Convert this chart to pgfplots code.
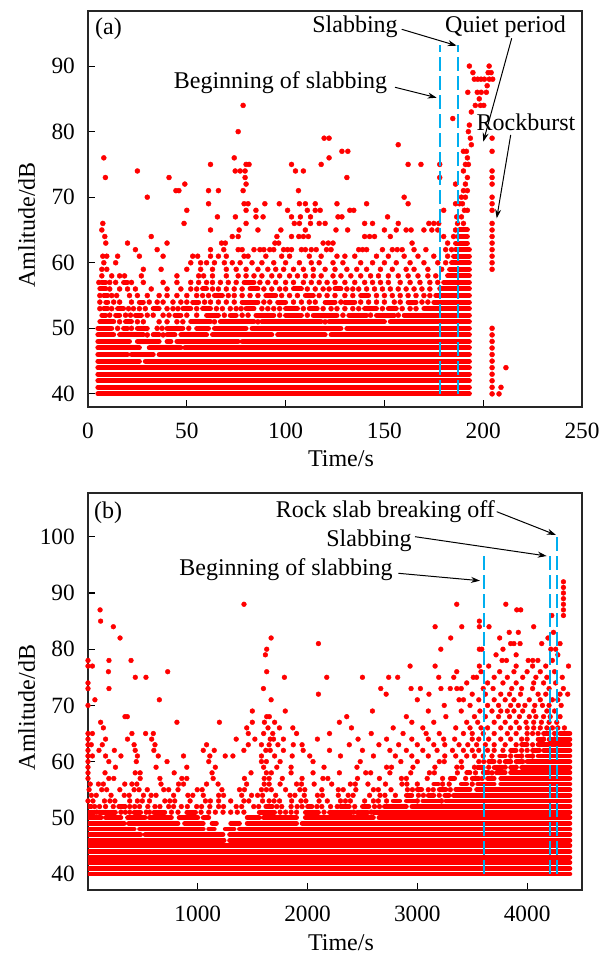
\documentclass[border=0pt]{standalone}
\usepackage{fontspec}
\setmainfont{Liberation Serif}
\usepackage{pgfplots}
\pgfplotsset{compat=1.18}
\usetikzlibrary{arrows.meta}
\definecolor{cyanb}{RGB}{0,174,239}
\pgfplotsset{
  common/.style={scale only axis, width=494pt,
    axis line style={black!85, line width=1.1pt},
    tick pos=left, tick align=inside, major tick length=7pt,
    tick style={black, line width=1.1pt},
    tick label style={font=\fontsize{23.3}{26}\selectfont},
    /pgf/number format/assume math mode=true,
    /pgf/number format/1000 sep={},
    xticklabel style={anchor=north, inner sep=0pt, yshift=-16pt},
    yticklabel style={anchor=east, inner sep=0pt, xshift=-13pt},
    every axis x label/.style={at={(axis description cs:0.512,0)}, anchor=base, yshift=-60pt, font=\fontsize{24}{28}\selectfont},
    every axis y label/.style={at={(axis description cs:-0.1073,0.46)}, rotate=90, anchor=base, font=\fontsize{24}{28}\selectfont},
    xlabel={Time/s}, ylabel={Amlitude/dB},
    clip mode=individual, unbounded coords=jump},
  dotA/.style={only marks, mark=*, mark size=2.5pt, color=red, mark options={solid, draw=none, fill=red}},
  segA/.style={color=red, line width=5pt, line cap=round, no markers},
  dotB/.style={only marks, mark=*, mark size=2.4pt, color=red, mark options={solid, draw=none, fill=red}},
  segB/.style={color=red, line width=4.8pt, line cap=round, no markers},
  slab/.style={color=cyanb, line width=2pt, dash pattern=on 14pt off 5pt, no markers},
}
\tikzset{ann/.style={font=\fontsize{24}{28}\selectfont, inner sep=0pt},
  arr/.style={-{Stealth[length=9pt,width=6pt]}, line width=1pt, black}}
\begin{document}
\begin{tikzpicture}
\path[use as bounding box] (0,0) rectangle (613pt,956pt);
% ---------------- panel (a)
\begin{axis}[common, at={(88pt,549pt)}, anchor=south west, height=396pt,
  xmin=0, xmax=250, ymin=38, ymax=98.4, xtick={0,50,100,150,200,250}, ytick={40,50,60,70,80,90}]
\addplot[segA] coordinates {
(5,40)(193,40) (nan,nan) (5,41)(193,41) (nan,nan) (5,42)(193,42) (nan,nan) (5,43)(193,43) (nan,nan) (5,44)(193,44) (nan,nan)
(5,45)(26,45) (nan,nan) (29,45)(193,45) (nan,nan)
(5,46)(20,46) (nan,nan) (22,46)(33,46) (nan,nan) (36,46)(193,46) (nan,nan)
(5,47)(26,47) (nan,nan) (31,47)(47,47) (nan,nan) (49,47)(193,47) (nan,nan)
(5,48)(21,48) (nan,nan) (25,48)(36,48) (nan,nan) (40,48)(42,48) (nan,nan) (45,48)(76,48) (nan,nan) (78,48)(193,48) (nan,nan)
(5,49)(13,49) (nan,nan) (16,49)(28,49) (nan,nan) (33,49)(36,49) (nan,nan) (40,49)(44,49) (nan,nan) (47,49)(60,49) (nan,nan) (63,49)(93,49) (nan,nan) (96,49)(120,49) (nan,nan) (123,49)(193,49) (nan,nan)
(5,50)(12,50) (nan,nan) (18,50)(20,50) (nan,nan) (25,50)(30,50) (nan,nan) (40,50)(48,50) (nan,nan) (55,50)(61,50) (nan,nan) (64,50)(80,50) (nan,nan) (83,50)(128,50) (nan,nan) (131,50)(193,50) (nan,nan)
(6,51)(13,51) (nan,nan) (19,51)(22,51) (nan,nan) (52,51)(62,51) (nan,nan) (67,51)(84,51) (nan,nan) (88,51)(118,51) (nan,nan) (122,51)(150,51) (nan,nan) (153,51)(193,51) (nan,nan)
(7,52)(9,52) (nan,nan) (14,52)(16,52) (nan,nan) (24,52)(27,52) (nan,nan) (44,52)(47,52) (nan,nan) (60,52)(66,52) (nan,nan) (72,52)(75,52) (nan,nan) (85,52)(94,52) (nan,nan) (100,52)(108,52) (nan,nan) (114,52)(126,52) (nan,nan) (132,52)(141,52) (nan,nan) (146,52)(155,52) (nan,nan) (160,52)(193,52) (nan,nan)
(8,53)(10,53) (nan,nan) (15,53)(18,53) (nan,nan) (33,53)(36,53) (nan,nan) (48,53)(52,53) (nan,nan) (58,53)(62,53) (nan,nan) (80,53)(84,53) (nan,nan) (100,53)(106,53) (nan,nan) (112,53)(116,53) (nan,nan) (140,53)(146,53) (nan,nan) (152,53)(156,53) (nan,nan) (170,53)(193,53) (nan,nan)
(9,54)(10,54) (nan,nan) (26,54)(28,54) (nan,nan) (53,54)(56,54) (nan,nan) (78,54)(86,54) (nan,nan) (96,54)(100,54) (nan,nan) (120,54)(125,54) (nan,nan) (130,54)(135,54) (nan,nan) (162,54)(166,54) (nan,nan) (175,54)(193,54) (nan,nan)
(8,55)(10,55) (nan,nan) (64,55)(68,55) (nan,nan) (90,55)(95,55) (nan,nan) (110,55)(114,55) (nan,nan) (138,55)(142,55) (nan,nan) (176,55)(193,55) (nan,nan)
(6,56)(9,56) (nan,nan) (58,56)(60,56) (nan,nan) (82,56)(86,56) (nan,nan) (104,56)(108,56) (nan,nan) (125,56)(128,56) (nan,nan) (178,56)(193,56) (nan,nan)
(7,57)(9,57) (nan,nan) (18,57)(20,57) (nan,nan) (79,57)(84,57) (nan,nan) (180,57)(193,57) (nan,nan)
(182,58)(193,58) (nan,nan) (183,59)(193,59) (nan,nan) (184,60)(193,60) (nan,nan) (185,61)(193,61) (nan,nan) (186,62)(193,62) (nan,nan)
(186,63)(192,63) (nan,nan) (187,64)(192,64) (nan,nan) (188,65)(192,65)
};
\addplot[dotA] coordinates {
(30,49)(38,49)
(15,50)(22,50)(35,50)(37.5,50)(51,50)
(16,51)(25,51)(28,51)(36,51)(40,51)(45,51)(48,51)(64,51)(86,51)(120,51)
(11,52)(19,52)(21.5,52)(30,52)(33,52)(38,52)(41,52)(50,52)(55,52)(69,52)(78,52)(81,52)(97,52)(111,52)(129,52)(143,52)(157,52)
(6,53)(12,53)(20.5,53)(23,53)(26,53)(29,53)(40,53)(43,53)(45.5,53)(55,53)(65,53)(68,53)(72,53)(75,53)(77.5,53)(88,53)(91,53)(94,53)(97,53)(109,53)(119,53)(123,53)(126,53)(130,53)(134,53)(137,53)(149,53)(159,53)(163,53)(166,53)
(6,54)(13,54)(16,54)(22,54)(31,54)(35,54)(38,54)(43,54)(47,54)(50,54)(59,54)(62,54)(66,54)(70,54)(74,54)(89,54)(92,54)(104,54)(108,54)(112,54)(115,54)(128,54)(138,54)(142,54)(146,54)(150,54)(155,54)(158,54)(169,54)(172,54)
(6,55)(12,55)(14.5,55)(21,55)(25,55)(30,55)(36,55)(40,55)(45,55)(50,55)(55,55)(58,55)(61,55)(71,55)(74,55)(78,55)(82,55)(86,55)(98,55)(102,55)(106,55)(117,55)(121,55)(125,55)(130,55)(134,55)(146,55)(150,55)(154,55)(158,55)(162,55)(166,55)(170,55)(173,55)
(11,56)(16,56)(20,56)(24,56)(32,56)(40,56)(47,56)(52,56)(55,56)(63,56)(66,56)(70,56)(74,56)(78,56)(89,56)(93,56)(97,56)(100,56)(111,56)(115,56)(119,56)(122,56)(131,56)(134,56)(137,56)(141,56)(145,56)(149,56)(153,56)(157,56)(161,56)(165,56)(169,56)(173,56)
(5.5,57)(11,57)(14,57)(22,57)(28,57)(38,57)(45,57)(52,57)(56,57)(60,57)(63,57)(67,57)(71,57)(75,57)(87,57)(91,57)(95,57)(100,57)(104,57)(109,57)(113,57)(117,57)(121,57)(125,57)(130,57)(135,57)(140,57)(144,57)(148,57)(152,57)(158,57)(163,57)(168,57)(173,57)(177,57)
(7,58)(12,58)(16,58)(18.5,58)(27,58)(45,58)(56,58)(58.5,58)(63,58)(70,58)(76,58)(80,58)(84,58)(88,58)(93,58)(97,58)(102,58)(106,58)(110,58)(114,58)(118,58)(124,58)(128,58)(133,58)(138,58)(143,58)(147,58)(152,58)(157,58)(162,58)(167,58)(172,58)(176,58)
(7,59)(9.5,59)(28,59)(37,59)(50,59)(57,59)(63,59)(70,59)(75,59)(80,59)(86,59)(91,59)(95,59)(99,59)(104,59)(109,59)(114,59)(120,59)(125,59)(131,59)(136,59)(141,59)(148,59)(154,59)(161,59)(165,59)(172,59)(179,59)
(8,60)(14,60)(52,60)(57,60)(60,60)(64,60)(69,60)(73,60)(77,60)(83,60)(88,60)(94,60)(100,60)(107,60)(113,60)(117,60)(124,60)(129,60)(138,60)(144,60)(150,60)(156,60)(163,60)(170,60)(177,60)(181,60)
(7.5,61)(9.5,61)(15,61)(26,61)(38,61)(53,61)(55.5,61)(62,61)(66,61)(70,61)(79,61)(81,61)(90,61)(98,61)(102,61)(112,61)(118,61)(126,61)(130,61)(135,61)(146,61)(152,61)(160,61)(167,61)(175,61)(182,61)
(24,62)(35,62)(62,62)(68.7,62)(76,62)(78,62)(84,62)(87,62)(89,62)(92,62)(94,62)(99,62)(101,62)(103,62)(108,62)(110,62)(113,62)(115.5,62)(120.7,62)(123,62)(137,62)(139,62)(141,62)(149,62)(154,62)(156.5,62)(159,62)(165,62)(171,62)(181,62)(184,62)
(9,63)(20,63)(40,63)(67.6,63)(69.5,63)(94.6,63)(96.5,63)(119,63)(121.6,63)(124,63)(164,63)(182,63)
(8.5,64)(32,64)(73,64)(76,64)(95.6,64)(103,64)(106.7,64)(109,64)(111.5,64)(140,64)(142.5,64)(145,64)(153,64)(180,64)(185,64)
(7,65)(62,65)(76.5,65)(86,65)(97.6,65)(110,65)(125.5,65)(131.4,65)(150,65)(156,65)(161,65)(163.5,65)(170,65)(174,65)(177,65)(186,65)
(7.5,66)(48.6,66)(80,66)(104.4,66)(107,66)(112.6,66)(117,66)(120,66)(140,66)(144,66)(157,66)(172.5,66)(175,66)(177.5,66)(187,66)(190,66)
(65.5,67)(74.6,67)(85,67)(88.6,67)(103,67)(107.5,67)(112.6,67)(126.5,67)(128.5,67)(151.6,67)(186.6,67)(189,67)
(50,68)(80,68)(85,68)(101,68)(111,68)(115,68)(117.5,68)(132.5,68)(134.5,68)(180,68)(190.5,68)(192,68)
(61,69)(79,69)(81,69)(89.5,69)(96.8,69)(107,69)(110,69)(115,69)(126,69)(141,69)(162,69)(186,69)(188,69)(189.5,69)
(30,70)(160,70)(189,70)(191,70)
(44.5,71)(46,71)(61,71)(66,71)(78.5,71)(106.5,71)(190,71)(192,71)
(49,72)(80,72)(186,72)(191,72)
(8.8,73)(41,73)(79.5,73)(131,73)(178,73)(192,73)
(25,74)(74.5,74)(77,74)(79.5,74)(105,74)(109,74)(190,74)
(62,75)(80,75)(81.5,75)(103,75)(118,75)(162,75)(168.5,75)(178,75)(191,75)(192.5,75)
(8,76)(74,76)(122,76)(192,76)
(128.5,77)(131.5,77)(190,77)(191.5,77)
(157,78)(194,78)
(119.5,79)(122,79)(193.5,79)
(76,80)(192.5,80)
(193,81)
(184.6,82)
(194,83)
(78.5,84)(196,84)(198.6,84)(200.3,84)
(198,85)
(192.2,86)(197,86)(199,86)(201.6,86)
(202,87)
(195.5,88)(197.2,88)(198.9,88)(200.6,88)(203.1,88)(204.8,88)
(194.8,89)(202.5,89)(204,89)
(193,90)(203,90)
(204.5,40)(204.5,41)(204.5,42)(204.5,43)(204.5,44)(204.5,45)(204.5,46)(204.5,47)(204.5,48)(204.5,49)(204.5,50)
(204.5,59)(204.5,60)(204.5,61)(204.5,62)(204.5,63)(204.5,64)(204.5,65)(204.5,66)(204.5,68)(204.5,69)(204.5,70)(204.5,72)(204.5,73)(204.5,74)(204.5,77)(204.5,79)
(208,40)(209,41)(211.5,44)
};
\addplot[slab] coordinates {(178.1,40)(178.1,93.2)};
\addplot[slab] coordinates {(187.2,40)(187.2,93.2)};
\end{axis}
% ---------------- panel (b)
\begin{axis}[common, at={(88pt,66pt)}, anchor=south west, height=397pt,
  xmin=0, xmax=4500, ymin=37.15, ymax=107.8, xtick={1000,2000,3000,4000}, ytick={40,50,60,70,80,90,100}]
\addplot[segB] coordinates {
(0,40)(4390,40) (nan,nan) (0,41)(4390,41) (nan,nan) (0,42)(4390,42) (nan,nan) (0,43)(4390,43) (nan,nan) (0,44)(4390,44) (nan,nan) (0,45)(4390,45) (nan,nan)
(0,46)(1240,46) (nan,nan) (1290,46)(4390,46) (nan,nan)
(0,47)(480,47) (nan,nan) (520,47)(1230,47) (nan,nan) (1290,47)(4390,47) (nan,nan)
(0,48)(420,48) (nan,nan) (470,48)(1050,48) (nan,nan) (1100,48)(1150,48) (nan,nan) (1250,48)(1330,48) (nan,nan) (1380,48)(4390,48) (nan,nan)
(0,49)(330,49) (nan,nan) (370,49)(820,49) (nan,nan) (880,49)(1050,49) (nan,nan) (1130,49)(1170,49) (nan,nan) (1300,49)(1380,49) (nan,nan) (1450,49)(1900,49) (nan,nan) (1950,49)(4390,49) (nan,nan)
(0,50)(120,50) (nan,nan) (160,50)(300,50) (nan,nan) (360,50)(520,50) (nan,nan) (560,50)(760,50) (nan,nan) (830,50)(1000,50) (nan,nan) (1050,50)(1100,50) (nan,nan) (1450,50)(1560,50) (nan,nan) (1600,50)(1900,50) (nan,nan) (1980,50)(2600,50) (nan,nan) (2650,50)(4390,50) (nan,nan)
(0,51)(60,51) (nan,nan) (100,51)(250,51) (nan,nan) (420,51)(480,51) (nan,nan) (600,51)(700,51) (nan,nan) (900,51)(980,51) (nan,nan) (1560,51)(1700,51) (nan,nan) (1980,51)(2100,51) (nan,nan) (2200,51)(2400,51) (nan,nan) (2450,51)(2550,51) (nan,nan) (2600,51)(4390,51) (nan,nan)
(0,52)(30,52) (nan,nan) (280,52)(340,52) (nan,nan) (1620,52)(1680,52) (nan,nan) (2000,52)(2040,52) (nan,nan) (2300,52)(2380,52) (nan,nan) (2500,52)(2560,52) (nan,nan) (2700,52)(2900,52) (nan,nan) (2950,52)(4390,52) (nan,nan)
(2780,53)(2840,53) (nan,nan) (2900,53)(2980,53) (nan,nan) (3050,53)(3200,53) (nan,nan) (3260,53)(4390,53) (nan,nan)
(2900,54)(2950,54) (nan,nan) (3100,54)(3150,54) (nan,nan) (3250,54)(3290,54) (nan,nan) (3330,54)(4390,54) (nan,nan)
(3000,55)(3040,55) (nan,nan) (3200,55)(3260,55) (nan,nan) (3350,55)(3480,55) (nan,nan) (3540,55)(4390,55) (nan,nan)
(3150,56)(3190,56) (nan,nan) (3400,56)(3450,56) (nan,nan) (3550,56)(3700,56) (nan,nan) (3760,56)(4390,56) (nan,nan)
(3300,57)(3340,57) (nan,nan) (3500,57)(3560,57) (nan,nan) (3640,57)(3700,57) (nan,nan) (3760,57)(4390,57) (nan,nan)
(3450,58)(3480,58) (nan,nan) (3600,58)(3650,58) (nan,nan) (3720,58)(3800,58) (nan,nan) (3850,58)(4390,58) (nan,nan)
(3550,59)(3600,59) (nan,nan) (3700,59)(3780,59) (nan,nan) (3850,59)(3900,59) (nan,nan) (3950,59)(4390,59) (nan,nan)
(3650,60)(3700,60) (nan,nan) (3800,60)(3840,60) (nan,nan) (3900,60)(3950,60) (nan,nan) (4000,60)(4390,60) (nan,nan)
(3750,61)(3800,61) (nan,nan) (3900,61)(3940,61) (nan,nan) (4000,61)(4040,61) (nan,nan) (4100,61)(4390,61) (nan,nan)
(3850,62)(3900,62) (nan,nan) (4050,62)(4100,62) (nan,nan) (4150,62)(4390,62) (nan,nan)
(3950,63)(4000,63) (nan,nan) (4100,63)(4390,63) (nan,nan)
(4100,64)(4150,64) (nan,nan) (4200,64)(4390,64) (nan,nan)
(4150,65)(4200,65) (nan,nan) (4300,65)(4390,65)
};
\addplot[dotB] coordinates {
(80,51)(300,51)(340,51)(380,51)(530,51)(560,51)(760,51)(820,51)(1030,51)(1100,51)(1160,51)(1230,51)(1300,51)(1360,51)(1420,51)(1750,51)(1800,51)(1850,51)(1900,51)(2150,51)(2420,51)(2580,51)
(60,52)(105,52)(160,52)(230,52)(380,52)(425,52)(470,52)(545,52)(610,52)(655,52)(735,52)(780,52)(850,52)(905,52)(990,52)(1035,52)(1110,52)(1190,52)(1235,52)(1350,52)(1400,52)(1510,52)(1555,52)(1720,52)(1765,52)(1850,52)(1905,52)(1950,52)(2085,52)(2130,52)(2210,52)(2270,52)(2430,52)(2610,52)(2655,52)
(0,53)(45,53)(150,53)(200,53)(245,53)(380,53)(450,53)(495,53)(560,53)(700,53)(745,53)(790,53)(930,53)(1070,53)(1115,53)(1190,53)(1300,53)(1420,53)(1465,53)(1590,53)(1650,53)(1695,53)(1745,53)(1855,53)(1940,53)(1985,53)(2105,53)(2180,53)(2300,53)(2345,53)(2390,53)(2520,53)(2600,53)(2645,53)(2720,53)(3000,53)(3220,53)
(30,54)(75,54)(210,54)(330,54)(375,54)(505,54)(575,54)(620,54)(780,54)(910,54)(955,54)(1050,54)(1190,54)(1235,54)(1400,54)(1490,54)(1545,54)(1590,54)(1710,54)(1840,54)(1885,54)(1970,54)(2090,54)(2135,54)(2280,54)(2370,54)(2415,54)(2565,54)(2660,54)(2705,54)(2800,54)(3010,54)(3055,54)(3200,54)
(10,55)(125,55)(170,55)(290,55)(420,55)(465,55)(540,55)(690,55)(735,55)(820,55)(995,55)(1040,55)(1220,55)(1380,55)(1425,55)(1580,55)(1625,55)(1670,55)(1800,55)(1930,55)(1975,55)(2130,55)(2280,55)(2325,55)(2440,55)(2600,55)(2645,55)(2760,55)(2910,55)(2955,55)(3100,55)(3145,55)(3300,55)
(20,56)(95,56)(140,56)(335,56)(400,56)(445,56)(665,56)(825,56)(870,56)(1080,56)(1185,56)(1445,56)(1605,56)(1650,56)(1750,56)(1900,56)(1945,56)(2060,56)(2220,56)(2390,56)(2435,56)(2550,56)(2710,56)(2860,56)(2905,56)(3000,56)(3230,56)(3290,56)(3500,56)
(0,57)(190,57)(235,57)(475,57)(655,57)(855,57)(900,57)(1140,57)(1425,57)(1605,57)(1650,57)(1770,57)(1950,57)(2140,57)(2185,57)(2455,57)(2655,57)(2855,57)(2900,57)(3090,57)(3230,57)(3440,57)(3590,57)
(0,58)(155,58)(430,58)(475,58)(785,58)(1130,58)(1485,58)(1625,58)(1670,58)(1850,58)(2050,58)(2290,58)(2530,58)(2575,58)(2750,58)(2940,58)(3110,58)(3155,58)(3365,58)(3530,58)(3680,58)
(0,59)(250,59)(620,59)(900,59)(1160,59)(1600,59)(1720,59)(1850,59)(2150,59)(2450,59)(2720,59)(2765,59)(2960,59)(3160,59)(3360,59)(3405,59)(3520,59)(3650,59)(3800,59)(3900,59)
(0,60)(190,60)(440,60)(720,60)(1100,60)(1580,60)(1625,60)(1750,60)(2050,60)(2480,60)(2850,60)(3000,60)(3200,60)(3245,60)(3400,60)(3560,60)(3605,60)(3750,60)(3850,60)(3960,60)
(0,61)(40,61)(160,61)(300,61)(450,61)(640,61)(870,61)(1110,61)(1250,61)(1320,61)(1580,61)(1700,61)(1860,61)(2020,61)(2300,61)(2600,61)(2800,61)(2950,61)(3100,61)(3250,61)(3350,61)(3450,61)(3520,61)(3600,61)(3680,61)(3850,61)(3950,61)(4050,61)
(0,62)(100,62)(240,62)(430,62)(600,62)(1050,62)(1150,62)(1420,62)(1620,62)(1660,62)(1780,62)(1960,62)(2200,62)(2500,62)(2750,62)(2900,62)(3050,62)(3180,62)(3320,62)(3420,62)(3500,62)(3560,62)(3640,62)(3700,62)(3780,62)(3950,62)(4000,62)(4110,62)
(0,63)(30,63)(130,63)(420,63)(610,63)(1080,63)(1460,63)(1580,63)(1650,63)(1730,63)(1870,63)(1950,63)(2380,63)(2650,63)(2830,63)(3000,63)(3150,63)(3250,63)(3380,63)(3460,63)(3540,63)(3620,63)(3700,63)(3800,63)(3900,63)(4050,63)
(0,64)(160,64)(360,64)(580,64)(1350,64)(1520,64)(1660,64)(1690,64)(1780,64)(2090,64)(2460,64)(2720,64)(2950,64)(3100,64)(3240,64)(3340,64)(3500,64)(3560,64)(3650,64)(3760,64)(3850,64)(3950,64)(4000,64)(4150,64)(4250,64)
(0,65)(40,65)(400,65)(525,65)(595,65)(1460,65)(1600,65)(1683,65)(1900,65)(2200,65)(2580,65)(2870,65)(3080,65)(3200,65)(3420,65)(3500,65)(3600,65)(3700,65)(3820,65)(3900,65)(4000,65)(4050,65)(4100,65)(4250,65)
(140,66)(1446,66)(1640,66)(1744,66)(1866,66)(2400,66)(2780,66)(3050,66)(3350,66)(3480,66)(3580,66)(3640,66)(3760,66)(3850,66)(3930,66)(4000,66)(4060,66)(4120,66)(4180,66)(4230,66)(4280,66)(4340,66)
(115,67)(810,67)(1197,67)(1497,67)(1607,67)(1700,67)(2290,67)(2950,67)(3150,67)(3450,67)(3550,67)(3700,67)(3800,67)(3900,67)(3990,67)(4060,67)(4130,67)(4200,67)(4270,67)
(337,68)(358,68)(1628,68)(1652,68)(2357,68)(2900,68)(3260,68)(3520,68)(3620,68)(3740,68)(3840,68)(3930,68)(4020,68)(4080,68)(4150,68)(4210,68)(4300,68)
(1497,69)(1797,69)(2591,69)(3100,69)(3400,69)(3570,69)(3680,69)(3760,69)(3820,69)(3880,69)(3960,69)(4060,69)(4180,69)(4250,69)
(0,70)(3245,70)(3480,70)(3640,70)(3740,70)(3850,70)(3920,70)(3980,70)(4070,70)(4140,70)(4200,70)(4310,70)
(63,71)(650,71)(1668,71)(3000,71)(3380,71)(3420,71)(3560,71)(3700,71)(3800,71)(3880,71)(4020,71)(4120,71)(4230,71)(4280,71)
(2099,72)(2716,72)(3106,72)(3500,72)(3620,72)(3760,72)(3840,72)(3940,72)(4100,72)(4170,72)(4300,72)(4370,72)
(0,73)(191,73)(1598,73)(2667,73)(2943,73)(3028,73)(3215,73)(3300,73)(3360,73)(3400,73)(3600,73)(3690,73)(3860,73)(3950,73)(4050,73)(4200,73)(4330,73)
(0,74)(3450,74)(3640,74)(3780,74)(3900,74)(4060,74)(4150,74)(4260,74)
(431,75)(528,75)(1789,75)(2175,75)(2500,75)(2739,75)(2821,75)(3195,75)(3332,75)(3510,75)(3540,75)(3700,75)(3820,75)(3960,75)(4080,75)(4180,75)(4320,75)
(186,76)(726,76)(1628,76)(3359,76)(3580,76)(3750,76)(3880,76)(4000,76)(4120,76)(4250,76)
(0,77)(40,77)(2934,77)(3162,77)(3565,77)(3650,77)(3900,77)(4050,77)(4170,77)(4377,77)
(0,78)(191,78)(392,78)(3772,78)(3812,78)(4010,78)(4052,78)(4098,78)(4230,78)
(1616,79)(3717,79)(3900,79)(4280,79)
(1628,80)(3214,80)(3565,80)(3587,80)(3780,80)(4216,80)(4260,80)
(2099,81)(3850,81)(3880,81)(3936,81)(4133,81)(4300,81)
(292,82)(1668,82)(3304,82)(3750,82)(4190,82)
(3837,83)(3920,83)(4240,83)
(231,84)(3162,84)(3405,84)(3565,84)(3653,84)(4060,84)
(115,85)(3565,85)
(4225,86)(4331,86)
(110,87)(3906,87)(3942,87)(4331,87)
(1421,88)(3359,88)(3806,88)(4331,88)
(4331,89)(4331,90)(4331,91)(4331,92)
};
\addplot[slab] coordinates {(3611,40)(3611,96.8)};
\addplot[slab] coordinates {(4210,40)(4210,97.1)};
\addplot[slab] coordinates {(4276,40)(4276,100.4)};
\end{axis}
% ---------------- annotations
\node[ann, anchor=center] at (108.5pt,927pt) {(a)};
\node[ann, anchor=base] at (355pt,923pt) {Slabbing};
\node[ann, anchor=base] at (280.5pt,867.4pt) {Beginning of slabbing};
\node[ann, anchor=base] at (505.5pt,923.4pt) {Quiet period};
\node[ann, anchor=base] at (526pt,825pt) {Rockburst};
\draw[arr] (401.7pt,926.7pt) -- (456.7pt,910.3pt);
\draw[arr] (395pt,868.7pt) -- (436.7pt,858.3pt);
\draw[arr] (511.7pt,917.7pt) -- (483.3pt,814.3pt);
\draw[arr] (510.7pt,821pt) -- (496.7pt,737.7pt);
\node[ann, anchor=center] at (108pt,443.5pt) {(b)};
\node[ann, anchor=base east] at (495pt,438pt) {Rock slab breaking off};
\node[ann, anchor=base] at (369pt,409.6pt) {Slabbing};
\node[ann, anchor=base] at (286pt,380pt) {Beginning of slabbing};
\draw[arr] (496.7pt,444.3pt) -- (556pt,421pt);
\draw[arr] (415pt,419.3pt) -- (546.7pt,400pt);
\draw[arr] (398.3pt,382.7pt) -- (480pt,375.3pt);
\end{tikzpicture}
\end{document}
